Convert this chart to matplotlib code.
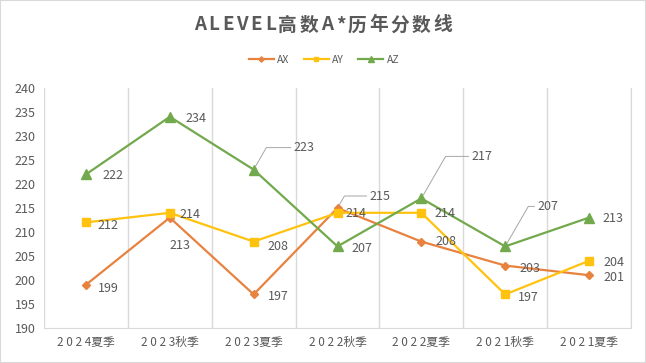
import matplotlib
matplotlib.use("Agg")
import matplotlib.pyplot as plt
from matplotlib.patches import Rectangle

plt.rcParams['font.family'] = ['Noto Sans CJK SC', 'DejaVu Sans']

categories = ["2024夏季", "2023秋季", "2023夏季", "2022秋季", "2022夏季", "2021秋季", "2021夏季"]
ax_vals = [199, 213, 197, 215, 208, 203, 201]
ay_vals = [212, 214, 208, 214, 214, 197, 204]
az_vals = [222, 234, 223, 207, 217, 207, 213]
y_ticks = [190, 195, 200, 205, 210, 215, 220, 225, 230, 235, 240]
title = "ALEVEL高数A*历年分数线"

W, H = 646, 363
fig = plt.figure(figsize=(W/100, H/100), dpi=100)
fig.patches.append(Rectangle((0, 0), 1, 1, transform=fig.transFigure,
                             fill=False, edgecolor='#d9d9d9', linewidth=1.5))
ax = fig.add_axes([44/W, 1-328/H, (631-44)/W, (328-88)/H])

x = list(range(len(categories)))
series = [
    ("AX", ax_vals, '#E8823F', 'D', 4.5),
    ("AY", ay_vals, '#FFC20E', 's', 6),
    ("AZ", az_vals, '#72A94C', '^', 7),
]
for name, vals, col, mk, ms in series:
    ax.plot(x, vals, color=col, marker=mk, markersize=ms, linewidth=1.6, label=name)

ax.set_xlim(-0.5, len(categories)-0.5)
ax.set_ylim(190, 240)
ax.set_yticks(y_ticks)
ax.set_yticklabels([str(v) for v in y_ticks], fontsize=9, color='#595959')
ax.set_xticks(x)
ax.set_xticklabels([" ".join(c[:4]) + c[4:] for c in categories], fontsize=8.5, color='#595959')
for b in range(len(categories)+1):
    ax.axvline(b-0.5, color='#d9d9d9', linewidth=1, zorder=0)
for s in ['top', 'left']:
    ax.spines[s].set_visible(False)
for s in ['bottom', 'right']:
    ax.spines[s].set_color('#d9d9d9')
ax.tick_params(length=0, pad=6)

offsets = {
    "AX": [(12, -4), (0, -28), (14, -2), (32, 12), (14, 0), (14, -3), (14, -2)],
    "AY": [(12, -3), (10, -2), (14, -5), (8, -1), (13, -1), (13, -3), (14, -2)],
    "AZ": [(17, -1), (16, -2), (40, 22), (14, -2), (50, 42), (32, 40), (13, -1)],
}
leaders = {("AX", 3), ("AZ", 2), ("AZ", 4), ("AZ", 5)}
for name, vals, col, mk, ms in series:
    for i, v in enumerate(vals):
        dx, dy = offsets[name][i]
        kw = {}
        if (name, i) in leaders:
            kw['arrowprops'] = dict(arrowstyle='-', color='#a6a6a6', linewidth=0.7,
                                    shrinkA=0, shrinkB=3,
                                    connectionstyle='angle,angleA=0,angleB=60,rad=0')
        ax.annotate(str(v), (i, v), xytext=(dx, dy), textcoords='offset pixels',
                    fontsize=9, color='#595959', ha='left', va='center', **kw)

# title with letter spacing
renderer = fig.canvas.get_renderer()
chars = []
widths = []
for ch in title:
    t = fig.text(0, 0, ch, fontsize=13.5, fontweight='bold', color='#595959',
                 ha='left', va='center')
    widths.append(t.get_window_extent(renderer).width)
    chars.append(t)
target = 258
gap = (target - sum(widths)) / (len(title) - 1)
xpos = 323 - target / 2
for t, w in zip(chars, widths):
    t.set_position((xpos / W, 1 - 25 / H))
    xpos += w + gap

leg = fig.legend(loc='center', bbox_to_anchor=(324/W, 1-60/H), ncol=3, frameon=False,
                 fontsize=7.5, handlelength=2.4, columnspacing=1.4, markerscale=0.6,
                 labelcolor='#595959', handletextpad=0.3)
fig.savefig("out.png", dpi=100)
